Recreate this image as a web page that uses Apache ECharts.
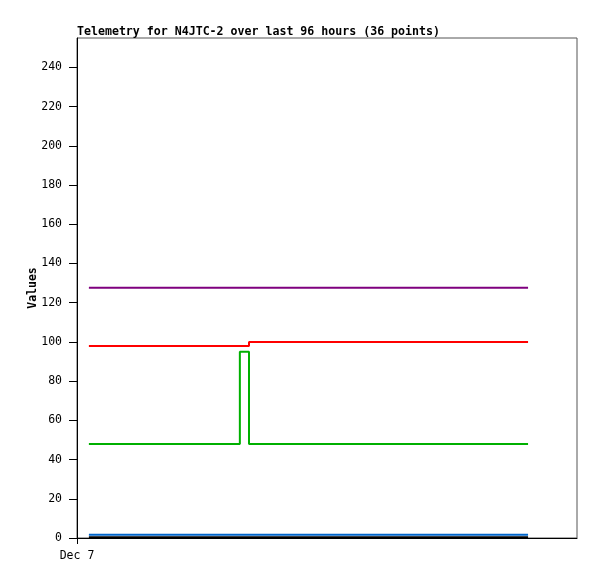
<!DOCTYPE html>
<html><head><meta charset="utf-8">
<script src="https://cdn.jsdelivr.net/npm/echarts@6/dist/echarts.min.js"></script>
<style>html,body{margin:0;padding:0;background:#fff}#c{width:597px;height:579px}</style>
</head><body><div id="c"></div>
<script>
// hours since Dec 7 00:00 (approx.)
const times = [2.6,5.3,8.1,10.8,13.6,16.3,19.0,21.8,24.5,27.3,30.0,32.8,35.6,37.6,40.3,43.1,45.8,48.6,51.3,54.1,56.8,59.6,62.3,65.1,67.8,70.6,73.3,76.1,78.8,81.6,84.3,87.1,89.8,92.6,95.3,98.6];
const purple = [127.6,127.6,127.6,127.6,127.6,127.6,127.6,127.6,127.6,127.6,127.6,127.6,127.6,127.6,127.6,127.6,127.6,127.6,127.6,127.6,127.6,127.6,127.6,127.6,127.6,127.6,127.6,127.6,127.6,127.6,127.6,127.6,127.6,127.6,127.6,127.6];
const red = [97.9,97.9,97.9,97.9,97.9,97.9,97.9,97.9,97.9,97.9,97.9,97.9,97.9,99.9,99.9,99.9,99.9,99.9,99.9,99.9,99.9,99.9,99.9,99.9,99.9,99.9,99.9,99.9,99.9,99.9,99.9,99.9,99.9,99.9,99.9,99.9];
const green = [48,48,48,48,48,48,48,48,48,48,48,48,95,48,48,48,48,48,48,48,48,48,48,48,48,48,48,48,48,48,48,48,48,48,48,48];
const blue = [1.6,1.6,1.6,1.6,1.6,1.6,1.6,1.6,1.6,1.6,1.6,1.6,1.6,1.6,1.6,1.6,1.6,1.6,1.6,1.6,1.6,1.6,1.6,1.6,1.6,1.6,1.6,1.6,1.6,1.6,1.6,1.6,1.6,1.6,1.6,1.6];
const black = [0.4,0.4,0.4,0.4,0.4,0.4,0.4,0.4,0.4,0.4,0.4,0.4,0.4,0.4,0.4,0.4,0.4,0.4,0.4,0.4,0.4,0.4,0.4,0.4,0.4,0.4,0.4,0.4,0.4,0.4,0.4,0.4,0.4,0.4,0.4,0.4];
const xLabel = 'Dec 7';
const titleText = 'Telemetry for N4JTC-2 over last 96 hours (36 points)';

const font = '"DejaVu Sans Mono", monospace';
function mk(vals, color, w) {
  return {
    type: 'line', step: 'end', symbol: 'none', animation: false,
    data: times.map((t, i) => [t, vals[i]]),
    lineStyle: { color: color, width: w }
  };
}
const chart = echarts.init(document.getElementById('c'), null, { renderer: 'canvas' });
chart.setOption({
  animation: false,
  title: {
    text: titleText, left: 72, top: 21,
    textStyle: { fontFamily: font, fontSize: 11.6, fontWeight: 'bold', color: '#000' }
  },
  grid: { left: 77, top: 38, width: 500, height: 500, show: true, borderColor: '#555', borderWidth: 1, backgroundColor: 'transparent' },
  xAxis: {
    type: 'value', min: 0, max: 109.3, interval: 200,
    splitLine: { show: false },
    axisLine: { lineStyle: { color: '#000', width: 1 } },
    axisTick: { show: true, length: 6, lineStyle: { color: '#000' } },
    axisLabel: {
      formatter: v => (v === 0 ? xLabel : ''), showMaxLabel: false,
      fontFamily: font, fontSize: 11.5, color: '#000', margin: 12, align: 'center'
    }
  },
  yAxis: {
    type: 'value', min: 0, max: 255, interval: 20,
    name: 'Values', nameLocation: 'middle', nameGap: 38, nameRotate: 90,
    nameMoveOverlap: false,
    nameTextStyle: { fontFamily: font, fontSize: 11.5, fontWeight: 'bold', color: '#000' },
    splitLine: { show: false },
    axisLine: { lineStyle: { color: '#000', width: 1 } },
    axisTick: { show: true, length: 8, lineStyle: { color: '#000' } },
    axisLabel: { fontFamily: font, fontSize: 11.5, color: '#000', margin: 15, showMaxLabel: false }
  },
  series: [
    mk(purple, '#7f007f', 2),
    mk(red, '#ff0000', 2),
    mk(green, '#00b000', 2),
    mk(blue, '#0066cc', 2),
    mk(black, '#000000', 2)
  ]
});
</script></body></html>
